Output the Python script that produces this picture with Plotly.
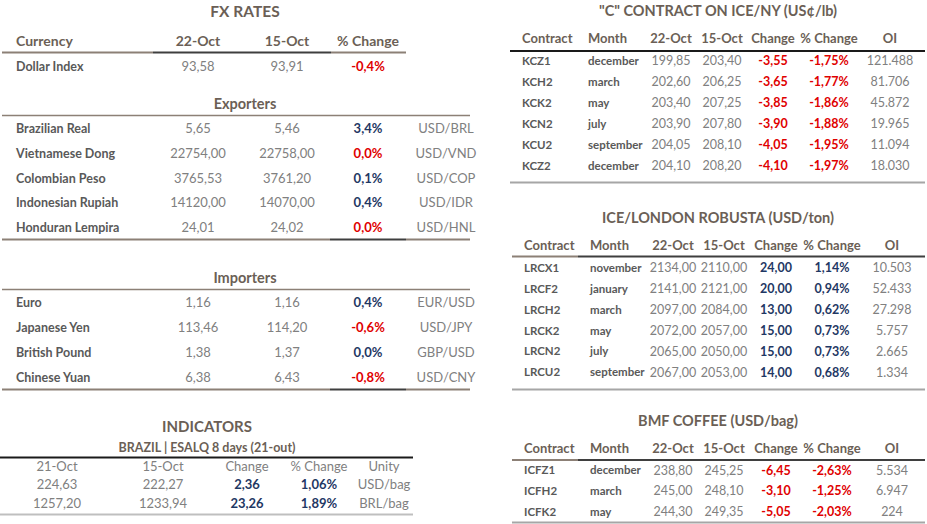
import plotly.graph_objects as go

# ---- FX RATES ----
fx_dates = ["22-Oct", "15-Oct"]
dollar_names = ["Dollar Index"]
dollar_now = [93.58]
dollar_prev = [93.91]
dollar_pct = [-0.4]

exp_names = ["Brazilian Real", "Vietnamese Dong", "Colombian Peso", "Indonesian Rupiah", "Honduran Lempira"]
exp_now = [5.65, 22754.00, 3765.53, 14120.00, 24.01]
exp_prev = [5.46, 22758.00, 3761.20, 14070.00, 24.02]
exp_pct = [3.4, 0.0, 0.1, 0.4, 0.0]
exp_pairs = ["USD/BRL", "USD/VND", "USD/COP", "USD/IDR", "USD/HNL"]

imp_names = ["Euro", "Japanese Yen", "British Pound", "Chinese Yuan"]
imp_now = [1.16, 113.46, 1.38, 6.38]
imp_prev = [1.16, 114.20, 1.37, 6.43]
imp_pct = [0.4, -0.6, 0.0, -0.8]
imp_pairs = ["EUR/USD", "USD/JPY", "GBP/USD", "USD/CNY"]

# ---- INDICATORS ----
ind_header = ["21-Oct", "15-Oct", "Change", "% Change", "Unity"]
ind_now = [224.63, 1257.20]
ind_prev = [222.27, 1233.94]
ind_chg = [2.36, 23.26]
ind_pct = [1.06, 1.89]
ind_unit = ["USD/bag", "BRL/bag"]

# ---- futures ----
fut_header = ["Contract", "Month", "22-Oct", "15-Oct", "Change", "% Change", "OI"]

kc_codes = ["KCZ1", "KCH2", "KCK2", "KCN2", "KCU2", "KCZ2"]
kc_months = ["december", "march", "may", "july", "september", "december"]
kc_now = [199.85, 202.60, 203.40, 203.90, 204.05, 204.10]
kc_prev = [203.40, 206.25, 207.25, 207.80, 208.10, 208.20]
kc_chg = [-3.55, -3.65, -3.85, -3.90, -4.05, -4.10]
kc_pct = [-1.75, -1.77, -1.86, -1.88, -1.95, -1.97]
kc_oi = [121488, 81706, 45872, 19965, 11094, 18030]

lrc_codes = ["LRCX1", "LRCF2", "LRCH2", "LRCK2", "LRCN2", "LRCU2"]
lrc_months = ["november", "january", "march", "may", "july", "september"]
lrc_now = [2134.00, 2141.00, 2097.00, 2072.00, 2065.00, 2067.00]
lrc_prev = [2110.00, 2121.00, 2084.00, 2057.00, 2050.00, 2053.00]
lrc_chg = [24.00, 20.00, 13.00, 15.00, 15.00, 14.00]
lrc_pct = [1.14, 0.94, 0.62, 0.73, 0.73, 0.68]
lrc_oi = [10503, 52433, 27298, 5757, 2665, 1334]

icf_codes = ["ICFZ1", "ICFH2", "ICFK2"]
icf_months = ["december", "march", "may"]
icf_now = [238.80, 245.00, 244.30]
icf_prev = [245.25, 248.10, 249.35]
icf_chg = [-6.45, -3.10, -5.05]
icf_pct = [-2.63, -1.25, -2.03]
icf_oi = [5534, 6947, 224]

FONT = "Lato"
TITLE_C = "#6b5f56"
LABEL_C = "#595959"
VALUE_C = "#808080"
RED = "#e00000"
BLUE = "#1f3864"
BROWN = "#8c8076"
DARK = "#3f3f3f"
GRAY = "#a6a6a6"


def num(v, d=2):
    return f"{v:.{d}f}".replace(".", ",")


def oi(v):
    return f"{v:,}".replace(",", ".")


def sign_color(pct, now, prev):
    if pct < 0 or (pct == 0 and now < prev):
        return RED
    return BLUE


fig = go.Figure()


def text(x, ys, labels, color, size=12, weight=400, pos="middle center"):
    fig.add_trace(go.Scatter(
        x=[x] * len(ys), y=ys, text=labels, mode="text",
        textposition=pos, hoverinfo="skip", showlegend=False,
        textfont=dict(family=FONT, size=size, color=color, weight=weight),
    ))


def rows(y0, step, n):
    return [y0 + i * step for i in range(n)]


def hline(y, segs, w=2):
    for x0, x1, c in segs:
        fig.add_shape(type="line", x0=x0, x1=x1, y0=y, y1=y,
                      line=dict(color=c, width=w), xref="x", yref="y")


# FX block
fx_x = {"name": 16, "now": 198, "prev": 287, "pct": 368, "pair": 446}


def fx_rows(names, now, prev, pct, pairs, y0, step):
    ys = rows(y0, step, len(names))
    text(fx_x["name"], ys, names, LABEL_C, 12.5, 700, "middle right")
    text(fx_x["now"], ys, [num(v) for v in now], VALUE_C, 13)
    text(fx_x["prev"], ys, [num(v) for v in prev], VALUE_C, 13)
    cols = [sign_color(p, a, b) for p, a, b in zip(pct, now, prev)]
    fig.add_trace(go.Scatter(
        x=[fx_x["pct"]] * len(ys), y=ys, text=[num(p, 1) + "%" for p in pct],
        mode="text", hoverinfo="skip", showlegend=False,
        textfont=dict(family=FONT, size=13, color=cols, weight=700),
    ))
    if pairs:
        text(fx_x["pair"], ys, pairs, VALUE_C, 13)


text(245, [13], ["FX RATES"], TITLE_C, 15.5, 700)
text(fx_x["name"], [42], ["Currency"], TITLE_C, 14, 700, "middle right")
text(fx_x["now"], [42], [fx_dates[0]], TITLE_C, 14, 700)
text(fx_x["prev"], [42], [fx_dates[1]], TITLE_C, 14, 700)
text(fx_x["pct"], [42], ["% Change"], TITLE_C, 14, 700)
hline(52.5, [(2, 153, BROWN), (153, 331, DARK), (331, 406, BROWN)])
fx_rows(dollar_names, dollar_now, dollar_prev, dollar_pct, None, 67.5, 25)

text(245, [105], ["Exporters"], TITLE_C, 14.5, 700)
hline(115.5, [(2, 470, BROWN)], 1.5)
fx_rows(exp_names, exp_now, exp_prev, exp_pct, exp_pairs, 130, 24.7)
hline(239.5, [(2, 330, BROWN), (330, 406, DARK), (406, 470, BROWN)])

text(245, [279], ["Importers"], TITLE_C, 14.5, 700)
hline(289.5, [(2, 470, BROWN)], 1.5)
fx_rows(imp_names, imp_now, imp_prev, imp_pct, imp_pairs, 303.5, 25)
hline(389.5, [(2, 330, BROWN), (330, 406, DARK), (406, 470, BROWN)])

# Indicators block
text(207, [428], ["INDICATORS"], TITLE_C, 15, 700)
text(207, [449], ["BRAZIL | ESALQ 8 days (21-out)"], TITLE_C, 12.5, 700)
hline(457.5, [(0, 413, "#1a1a1a")])
ind_x = [57, 163, 247, 319, 384]
for x, h in zip(ind_x, ind_header):
    text(x, [467.5], [h], VALUE_C, 13)
ind_ys = rows(486, 19, len(ind_now))
text(ind_x[0], ind_ys, [num(v) for v in ind_now], VALUE_C, 13)
text(ind_x[1], ind_ys, [num(v) for v in ind_prev], VALUE_C, 13)
text(ind_x[2], ind_ys, [num(v) for v in ind_chg], BLUE, 13, 700)
text(ind_x[3], ind_ys, [num(v) + "%" for v in ind_pct], BLUE, 13, 700)
text(ind_x[4], ind_ys, ind_unit, VALUE_C, 13)
hline(514.5, [(0, 413, "#bfbfbf")])


# futures tables
def fut_table(title, ty, hy, xs, codes, months, now, prev, chg, pct, ois, y0, step, line_y, bottom_y, line_segs):
    text(718, [ty], [title], TITLE_C, 14.5, 700)
    for i, h in enumerate(fut_header):
        pos = "middle right" if i < 2 else "middle center"
        text(xs[i], [hy], [h], TITLE_C, 13, 700, pos)
    hline(line_y, line_segs)
    ys = rows(y0, step, len(codes))
    text(xs[0], ys, codes, LABEL_C, 11.5, 700, "middle right")
    text(xs[1], ys, months, LABEL_C, 11.5, 700, "middle right")
    text(xs[2], ys, [num(v) for v in now], VALUE_C, 12.5)
    text(xs[3], ys, [num(v) for v in prev], VALUE_C, 12.5)
    cols = [RED if c < 0 else BLUE for c in chg]
    for xi, vals in ((4, [num(v) for v in chg]), (5, [num(v) + "%" for v in pct])):
        fig.add_trace(go.Scatter(
            x=[xs[xi]] * len(ys), y=ys, text=vals, mode="text",
            hoverinfo="skip", showlegend=False,
            textfont=dict(family=FONT, size=12.5, color=cols, weight=700),
        ))
    text(xs[6], ys, [oi(v) for v in ois], VALUE_C, 12.5)
    hline(bottom_y, [(xs[0] - 12, 925, GRAY)])


kc_x = [522, 588, 671, 722, 773, 829, 890]
lr_x = [524, 590, 673, 724, 776, 832, 892]

fut_table('"C" CONTRACT ON ICE/NY (US¢/lb)', 12, 40, kc_x, kc_codes, kc_months,
          kc_now, kc_prev, kc_chg, kc_pct, kc_oi, 62, 21, 51,
          182.5, [(510, 925, "#1a1a1a")])
fut_table("ICE/LONDON ROBUSTA (USD/ton)", 219, 247, lr_x, lrc_codes, lrc_months,
          lrc_now, lrc_prev, lrc_chg, lrc_pct, lrc_oi, 269, 20.9, 256.5,
          389.5, [(512, 578, BROWN), (578, 925, DARK)])
fut_table("BMF COFFEE (USD/bag)", 422, 450, lr_x, icf_codes, icf_months,
          icf_now, icf_prev, icf_chg, icf_pct, icf_oi, 471.5, 20.7, 460,
          522.5, [(512, 578, BROWN), (578, 925, DARK)])

fig.update_layout(
    width=927, height=524,
    margin=dict(l=0, r=0, t=0, b=0),
    paper_bgcolor="white", plot_bgcolor="white",
    xaxis=dict(range=[0, 927], visible=False, fixedrange=True),
    yaxis=dict(range=[524, 0], visible=False, fixedrange=True),
)

fig.write_html("out.html", config={"displayModeBar": False},
               post_script="document.body.style.margin='0px';")
